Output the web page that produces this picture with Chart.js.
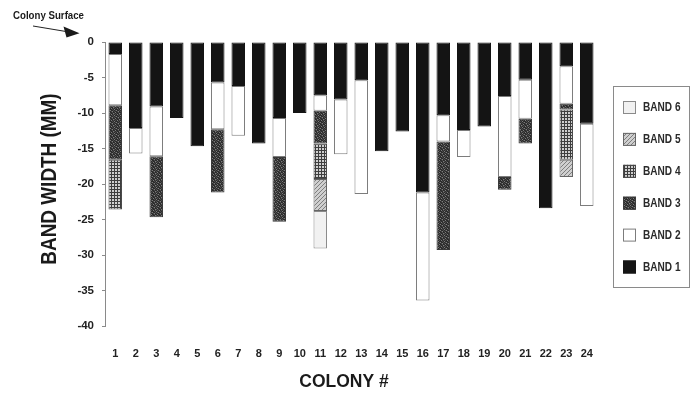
<!DOCTYPE html>
<html>
<head>
<meta charset="utf-8">
<script src="https://cdn.jsdelivr.net/npm/chart.js@4/dist/chart.umd.min.js"></script>
<style>
  html, body { margin: 0; padding: 0; background: #fff; }
  #wrap { width: 693px; height: 396px; }
</style>
</head>
<body>
<div id="wrap"><canvas id="c" width="693" height="396"></canvas></div>
<script>
// Colony numbers along the x axis
const colonies = ['1','2','3','4','5','6','7','8','9','10','11','12','13','14','15','16','17','18','19','20','21','22','23','24'];

// Band widths in mm, measured downward from the colony surface (stacked, negative)
const band1 = [-1.7, -12.1, -9.1, -10.7, -14.7, -5.7, -6.2, -14.3, -10.7, -10.0, -7.5, -8.1, -5.4, -15.4, -12.6, -21.2, -10.3, -12.4, -11.9, -7.6, -5.3, -23.4, -3.4, -11.5];
const band2 = [-7.2, -3.6, -7.0, null, null, -6.6, -7.0, null, -5.5, null, -2.2, -7.7, -16.0, null, null, -15.2, -3.7, -3.8, null, -11.4, -5.5, null, -5.3, -11.6];
const band3 = [-7.7, null, -8.6, null, null, -8.9, null, null, -9.1, null, -4.6, null, null, null, null, null, -15.3, null, null, -1.8, -3.5, null, -0.8, null];
const band4 = [-7.0, null, null, null, null, null, null, null, null, null, -5.0, null, null, null, null, null, null, null, null, null, null, null, -7.1, null];
const band5 = [null, null, null, null, null, null, null, null, null, null, -4.5, null, null, null, null, null, null, null, null, null, null, null, -2.4, null];
const band6 = [null, null, null, null, null, null, null, null, null, null, -5.3, null, null, null, null, null, null, null, null, null, null, null, null, null];

// Y axis tick values
const yTicks = [0, -5, -10, -15, -20, -25, -30, -35, -40];

const FONT = "'Liberation Sans', Arial, sans-serif";

// ---- fill textures ----
function tile(w, h, paint) {
  const cv = document.createElement('canvas');
  cv.width = w; cv.height = h;
  const g = cv.getContext('2d');
  paint(g);
  return document.createElement('canvas').getContext('2d').createPattern(cv, 'repeat');
}

// dark mottled fill
const mottleMap = [
  '010201',
  '200010',
  '012001',
  '100120',
  '020010',
  '101002'
];
const mottleShades = ['#2c2c2c', '#4a4a4a', '#7c7c7c'];
const mottled = tile(6, 6, g => {
  for (let y = 0; y < 6; y++) for (let x = 0; x < 6; x++) {
    g.fillStyle = mottleShades[+mottleMap[y][x]];
    g.fillRect(x, y, 1, 1);
  }
});

// fine square grid
const grid = tile(3, 3, g => {
  g.fillStyle = '#cfcfcf'; g.fillRect(0, 0, 3, 3);
  g.fillStyle = '#3e3e3e';
  g.fillRect(0, 0, 3, 1);
  g.fillRect(0, 0, 1, 3);
});

// diagonal hatch
const hatch = tile(4, 4, g => {
  g.fillStyle = '#cfcfcf'; g.fillRect(0, 0, 4, 4);
  g.fillStyle = '#7e7e7e';
  for (let i = 0; i < 4; i++) g.fillRect(i, 3 - i, 1, 1);
});

function ds(label, data, bg, border) {
  return {
    label, data,
    backgroundColor: bg,
    borderColor: border,
    borderWidth: 1,
    borderSkipped: false,
    categoryPercentage: 1.0,
    barPercentage: 0.66
  };
}

const datasets = [
  ds('BAND 1', band1, '#141414', '#141414'),
  ds('BAND 2', band2, '#ffffff', '#7c7c7c'),
  ds('BAND 3', band3, mottled, '#3a3a3a'),
  ds('BAND 4', band4, grid, '#4a4a4a'),
  ds('BAND 5', band5, hatch, '#666666'),
  ds('BAND 6', band6, '#f1f1f1', '#8a8a8a')
];

// condensed bold text: regular face squeezed horizontally
function narrowText(ctx, text, x, y, size, squeeze, align) {
  ctx.save();
  ctx.translate(x, y);
  ctx.scale(squeeze, 1);
  ctx.font = 'bold ' + size + 'px ' + FONT;
  ctx.textAlign = align;
  ctx.textBaseline = 'middle';
  ctx.fillText(text, 0, 0);
  ctx.restore();
}

// titles, surface marker and boxed legend
const decorations = {
  id: 'decorations',
  afterDraw(chart) {
    const ctx = chart.ctx;
    ctx.save();
    ctx.fillStyle = '#1a1a1a';

    // y title
    ctx.save();
    ctx.translate(50, 179);
    ctx.rotate(-Math.PI / 2);
    narrowText(ctx, 'BAND WIDTH (MM)', 0, 0, 22, 0.86, 'center');
    ctx.restore();

    // x title
    narrowText(ctx, 'COLONY #', 344, 382, 19, 0.92, 'center');

    // colony surface marker
    narrowText(ctx, 'Colony Surface', 13, 16, 11, 0.88, 'left');
    ctx.strokeStyle = '#222';
    ctx.lineWidth = 1;
    ctx.beginPath();
    ctx.moveTo(33, 26);
    ctx.lineTo(66, 31.5);
    ctx.stroke();
    ctx.beginPath();
    ctx.moveTo(63.5, 26.5);
    ctx.lineTo(79.5, 33.3);
    ctx.lineTo(66.5, 37.5);
    ctx.closePath();
    ctx.fill();

    // legend box
    ctx.strokeStyle = '#8a8a8a';
    ctx.strokeRect(613.5, 86.5, 76, 201);
    const items = chart.data.datasets.slice().reverse();
    items.forEach((d, i) => {
      const cy = 107.5 + i * 31.9;
      ctx.fillStyle = d.backgroundColor;
      ctx.fillRect(623, cy - 6.5, 13, 13);
      ctx.strokeStyle = d.borderColor;
      ctx.strokeRect(623.5, cy - 6, 12, 12);
      ctx.fillStyle = '#2a2a2a';
      narrowText(ctx, d.label, 643, cy + 0.5, 12, 0.84, 'left');
    });
    ctx.restore();
  }
};

new Chart(document.getElementById('c'), {
  type: 'bar',
  data: { labels: colonies, datasets },
  options: {
    responsive: false,
    animation: false,
    devicePixelRatio: 1,
    layout: { padding: { left: 0, right: 96, top: 42, bottom: 0 } },
    plugins: { legend: { display: false }, tooltip: { enabled: false } },
    scales: {
      x: {
        stacked: true,
        offset: true,
        grid: { display: false, drawTicks: false },
        border: { display: false },
        ticks: { color: '#222', padding: 21, font: { family: FONT, size: 11, weight: 'bold' }, maxRotation: 0 },
        afterFit(s) { s.height = 70; }
      },
      y: {
        stacked: true,
        min: -40,
        max: 0,
        afterBuildTicks(s) { s.ticks = yTicks.map(v => ({ value: v })); },
        afterFit(s) { s.width = 105; },
        grid: { display: true, drawOnChartArea: false, drawTicks: true, tickLength: 3, color: '#8a8a8a' },
        border: { display: true, color: '#8a8a8a', width: 1 },
        ticks: { color: '#222', padding: 8, font: { family: FONT, size: 11.5, weight: 'bold' } }
      }
    }
  },
  plugins: [decorations]
});
</script>
</body>
</html>
